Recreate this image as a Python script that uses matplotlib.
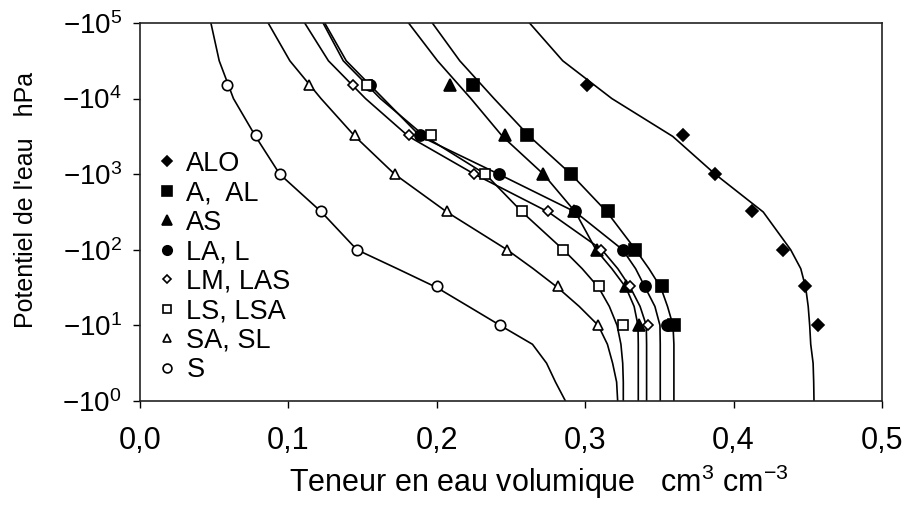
import numpy as np
import matplotlib
matplotlib.use('Agg')
import matplotlib.pyplot as plt
from matplotlib.ticker import NullLocator

plt.rcParams['font.family'] = ['Liberation Sans', 'DejaVu Sans']
plt.rcParams['mathtext.fontset'] = 'custom'
plt.rcParams['mathtext.rm'] = 'Liberation Sans'
plt.rcParams['mathtext.it'] = 'Liberation Sans'

# suction of the fitted curves (hPa)
h_curve = [1, 1.78, 3.16, 5.62, 10, 17.8, 31.6, 56.2, 100, 316, 1000, 3160, 10000, 31600, 100000]

# water content (same order as h_curve)
alo_curve = [0.4542, 0.4540, 0.4536, 0.4520, 0.4513, 0.4503, 0.4486, 0.4453, 0.4385, 0.4200, 0.3876, 0.3590, 0.3180, 0.2849, 0.2625]
a_curve = [0.3598, 0.3598, 0.3598, 0.3598, 0.3592, 0.3555, 0.3510, 0.3430, 0.3340, 0.3147, 0.2905, 0.2625, 0.2386, 0.2155, 0.1970]
as_curve = [0.3358, 0.3358, 0.3358, 0.3358, 0.3356, 0.3330, 0.3275, 0.3180, 0.3073, 0.2934, 0.2719, 0.2443, 0.2230, 0.2005, 0.1810]
la_curve = [0.3506, 0.3506, 0.3506, 0.3506, 0.3504, 0.3470, 0.3405, 0.3340, 0.3253, 0.2934, 0.2418, 0.1890, 0.1640, 0.1390, 0.1245]
lm_curve = [0.3414, 0.3414, 0.3414, 0.3414, 0.3412, 0.3370, 0.3305, 0.3220, 0.3113, 0.2752, 0.2254, 0.1810, 0.1520, 0.1270, 0.1110]
ls_curve = [0.3257, 0.3257, 0.3253, 0.3241, 0.3215, 0.3163, 0.3091, 0.2980, 0.2853, 0.2575, 0.2328, 0.1920, 0.1620, 0.1370, 0.1234]
sa_curve = [0.3219, 0.3212, 0.3185, 0.3150, 0.3088, 0.2960, 0.2815, 0.2650, 0.2474, 0.2068, 0.1716, 0.1449, 0.1220, 0.1010, 0.0864]
s_curve = [0.2867, 0.2800, 0.2740, 0.2645, 0.2427, 0.2214, 0.2001, 0.1734, 0.1462, 0.1223, 0.0942, 0.0779, 0.0630, 0.0534, 0.0478]

# measured points
h_meas = [10, 33, 100, 330, 1000, 3300, 15000]
alo_meas = [0.4572, 0.4482, 0.4334, 0.4125, 0.3876, 0.3661, 0.3013]
a_meas = [0.3600, 0.3517, 0.3338, 0.3151, 0.2905, 0.2609, 0.2243]
as_meas = [0.3360, 0.3275, 0.3077, 0.2925, 0.2719, 0.2461, 0.2086]
la_meas = [0.3549, 0.3403, 0.3253, 0.2934, 0.2418, 0.1889, 0.1548]
lm_meas = [0.3421, 0.3305, 0.3110, 0.2750, 0.2254, 0.1812, 0.1436]
ls_meas = [0.3257, 0.3091, 0.2851, 0.2575, 0.2328, 0.1963, 0.1530]
sa_meas = [0.3086, 0.2815, 0.2474, 0.2068, 0.1716, 0.1449, 0.1137]
s_meas = [0.2427, 0.2001, 0.1462, 0.1223, 0.0942, 0.0779, 0.0588]

labels = ['ALO', 'A,  AL', 'AS', 'LA, L', 'LM, LAS', 'LS, LSA', 'SA, SL', 'S']
curves = [alo_curve, a_curve, as_curve, la_curve, lm_curve, ls_curve, sa_curve, s_curve]
meas = [alo_meas, a_meas, as_meas, la_meas, lm_meas, ls_meas, sa_meas, s_meas]

x_ticks = [0.0, 0.1, 0.2, 0.3, 0.4, 0.5]
x_ticklabels = ['0,0', '0,1', '0,2', '0,3', '0,4', '0,5']
y_exp = [0, 1, 2, 3, 4, 5]

# marker, face colour, size
styles = [('D', 'black', 6.0), ('s', 'black', 8.0), ('^', 'black', 8.0), ('o', 'black', 8.0),
          ('D', 'white', 4.8), ('s', 'white', 7.5), ('^', 'white', 7.5), ('o', 'white', 7.5)]

fig = plt.figure(figsize=(9.13, 5.05), dpi=100)
ax = fig.add_axes([0.1533, 0.206, 0.8127, 0.7485])

for c in curves:
    ax.plot(c, h_curve, color='black', lw=1.2, zorder=2)

for m, lab, (mk, fc, ms) in zip(meas, labels, styles):
    ax.plot(m, h_meas, ls='none', marker=mk, mfc=fc, mec='black', mew=1.2, ms=ms,
            label=lab, zorder=3)

ax.set_yscale('log')
ax.set_ylim(1, 1e5)
ax.set_xlim(0, 0.5)
ax.yaxis.set_minor_locator(NullLocator())
ax.set_yticks([10.0 ** e for e in y_exp])
ax.set_yticklabels([r'$\mathregular{-10^{%d}}$' % e for e in y_exp], fontsize=20)
ax.set_xticks(x_ticks)
ax.set_xticklabels(x_ticklabels, fontsize=22)
ax.tick_params(axis='x', direction='out', length=5, width=1, pad=13, top=False)
ax.tick_params(axis='y', direction='out', length=5, width=1, pad=8, right=False)
for s in ax.spines.values():
    s.set_linewidth(1.2)
    s.set_color('#222222')

ax.legend(loc='upper left', bbox_to_anchor=(0.026, 0.662), frameon=False, fontsize=19.5,
          handlelength=0.6, handletextpad=0.4, labelspacing=0.13, markerscale=0.85,
          borderpad=0, borderaxespad=0)

fig.text(0.59, 0.045, r'Teneur en eau volumique   cm$^{3}$ cm$^{-3}$', fontsize=22,
         ha='center', va='center')
fig.text(0.028, 0.605, "Potentiel de l'eau   hPa", fontsize=18, rotation=90,
         ha='center', va='center')

fig.savefig('out.png', dpi=100)
